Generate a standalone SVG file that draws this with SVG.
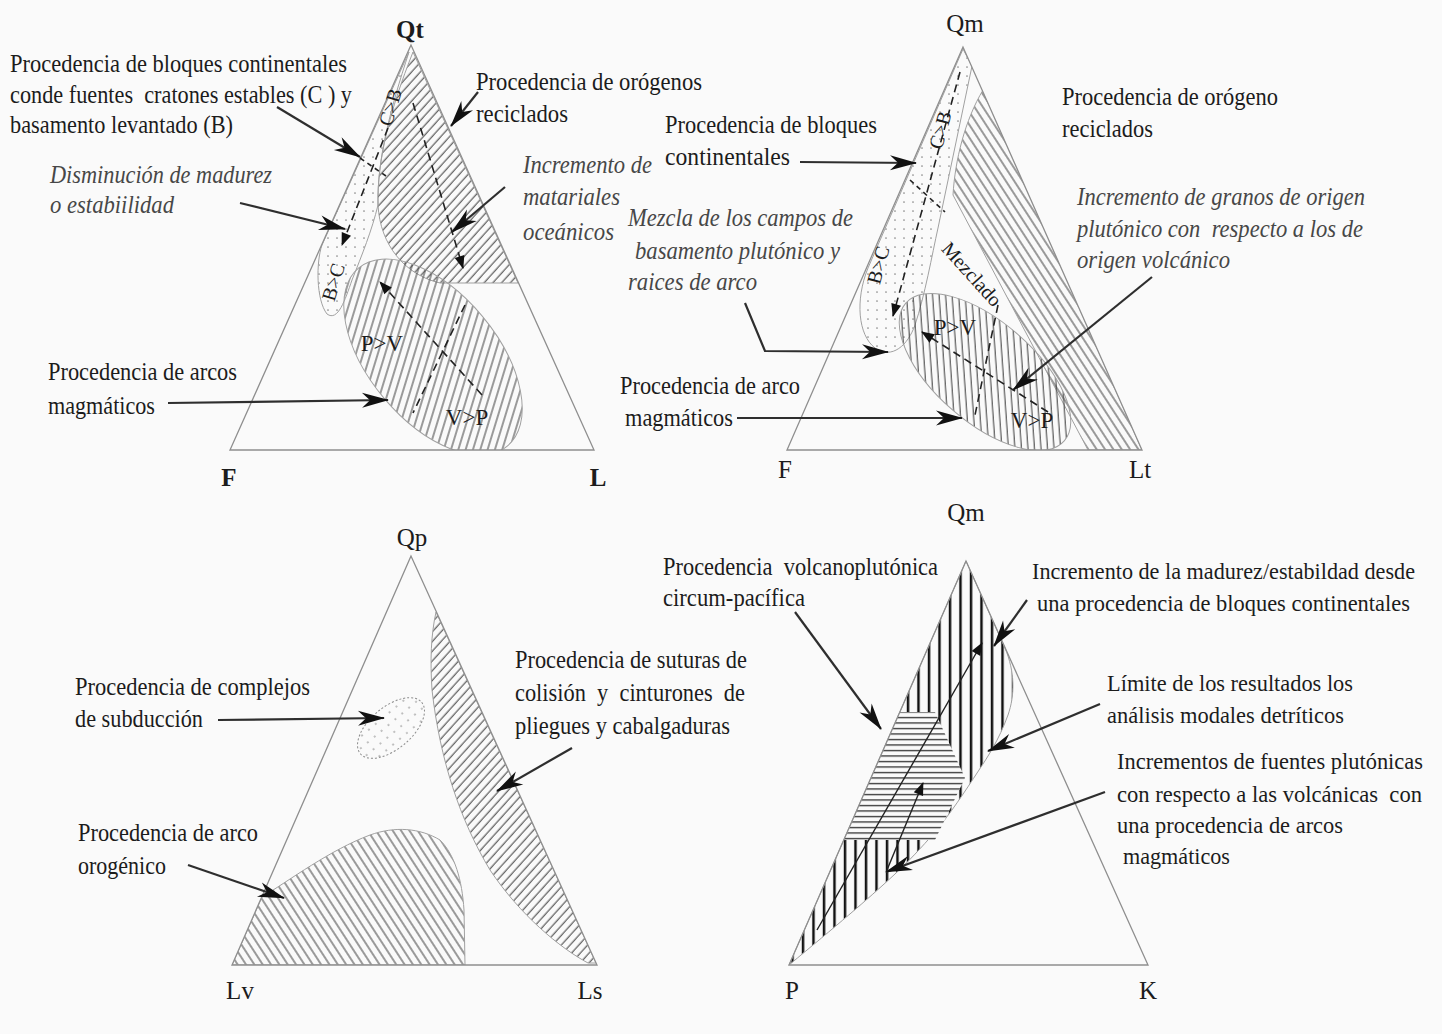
<svg xmlns="http://www.w3.org/2000/svg" width="1442" height="1034" viewBox="0 0 1442 1034">
<defs>
<style>
.t{font-family:"Liberation Serif","Times New Roman",serif;font-size:25px;fill:#1c1c1c}
.s{font-size:22.5px}
.i{font-style:italic;fill:#474747}
.c{text-anchor:middle}
.b{font-weight:bold}
.r{font-size:20px;text-anchor:middle;dominant-baseline:central}
.tri{fill:none;stroke:#8e8e8e;stroke-width:1.3}
.ol{stroke:#a0a0a0;stroke-width:1}
.ar{fill:none;stroke:#2e2e2e;stroke-width:2.2;marker-end:url(#ah)}
.da{fill:none;stroke:#222;stroke-width:1.6;stroke-dasharray:8 5}
.dh{marker-end:url(#sa)}
.sl{fill:none;stroke:#222;stroke-width:1.4;marker-end:url(#sa)}
</style>
<marker id="ah" viewBox="-28 -9 30 18" refX="0" refY="0" markerWidth="30" markerHeight="18" markerUnits="userSpaceOnUse" orient="auto"><path d="M1,0 L-26,-7.5 L-18,0 L-26,7.5 Z" fill="#111"/></marker>
<marker id="sa" viewBox="-13 -6 14 12" refX="0" refY="0" markerWidth="14" markerHeight="12" markerUnits="userSpaceOnUse" orient="auto"><path d="M1,0 L-12,-5 L-12,5 Z" fill="#111"/></marker>
<pattern id="pf" width="6.5" height="6.5" patternUnits="userSpaceOnUse" patternTransform="rotate(42)"><line x1="3" y1="-1" x2="3" y2="8" stroke="#4a4a4a" stroke-width="1.1"/></pattern>
<pattern id="pb" width="7" height="7" patternUnits="userSpaceOnUse" patternTransform="rotate(-33)"><line x1="3" y1="-1" x2="3" y2="8" stroke="#4a4a4a" stroke-width="1.1"/></pattern>
<pattern id="pb45" width="6.5" height="6.5" patternUnits="userSpaceOnUse" patternTransform="rotate(-45)"><line x1="3" y1="-1" x2="3" y2="8" stroke="#4a4a4a" stroke-width="1.1"/></pattern>
<pattern id="dots" width="9" height="9" patternUnits="userSpaceOnUse"><circle cx="4" cy="4" r="0.85" fill="#888"/></pattern>
<pattern id="vl" width="10.5" height="10" patternUnits="userSpaceOnUse"><line x1="5" y1="-1" x2="5" y2="11" stroke="#111" stroke-width="2.5"/></pattern>
<pattern id="hl" width="10" height="5.5" patternUnits="userSpaceOnUse"><line x1="-1" y1="2.5" x2="11" y2="2.5" stroke="#333" stroke-width="1.3"/></pattern>
<clipPath id="c1"><polygon points="411,45 230,450 594,450"/></clipPath>
<clipPath id="c2"><polygon points="963,47 787,450 1142,450"/></clipPath>
<clipPath id="c3"><polygon points="411,556 232,965 597,965"/></clipPath>
</defs>
<rect width="1442" height="1034" fill="#fafafa"/>

<g id="diagram-qt-f-l">
<g clip-path="url(#c1)">
<path d="M409,52 L322,245 C316,262 316,300 327,314 C338,322 345,300 352,280 C362,255 372,230 378,205 C377,160 390,110 409,52 Z" fill="url(#dots)" class="ol"/>
<path d="M413,52 L518,283 L440,283 C405,275 380,245 378,205 C377,160 390,110 413,52 Z" fill="url(#pf)" class="ol"/>
<ellipse cx="433" cy="357" rx="116" ry="64" transform="rotate(50 433 357)" fill="url(#pb)" class="ol"/>
</g>
<polygon class="tri" points="411,45 230,450 594,450"/>
<text class="t b c" x="410" y="38">Qt</text>
<text class="t b c" x="229" y="486">F</text>
<text class="t b c" x="598" y="486">L</text>
<text class="t r" transform="translate(390,107) rotate(-73)">C&gt;B</text>
<text class="t r" transform="translate(333,282) rotate(-73)">B&gt;C</text>
<text class="t c" x="382" y="351" style="font-size:23px">P&gt;V</text>
<text class="t c" x="467" y="425" style="font-size:23px">V&gt;P</text>
</g>

<g id="diagram-qm-f-lt">
<g clip-path="url(#c2)">
<path d="M963,49 L868,268 C855,300 858,335 875,348 C892,360 908,345 915,325 C925,295 932,255 938,228 L972,66 Z" fill="url(#dots)" class="ol"/>
<path d="M983,90 L1142,450 L1088,450 L953,195 C955,160 965,120 983,90 Z" fill="url(#pb)" class="ol"/>
<ellipse cx="985" cy="372" rx="105" ry="50" transform="rotate(41 985 372)" fill="url(#pb45)" class="ol"/>
</g>
<polygon class="tri" points="963,47 787,450 1142,450"/>
<text class="t c" x="965" y="32">Qm</text>
<text class="t c" x="785" y="478">F</text>
<text class="t c" x="1140" y="478">Lt</text>
<text class="t r" transform="translate(940,130) rotate(-75)">C&gt;B</text>
<text class="t r" transform="translate(878,265) rotate(-75)">B&gt;C</text>
<text class="t r" transform="translate(972,274) rotate(48)">Mezclado</text>
<text class="t c" x="955" y="335" style="font-size:23px">P&gt;V</text>
<text class="t c" x="1032" y="428" style="font-size:23px">V&gt;P</text>
</g>

<g id="diagram-qp-lv-ls">
<g clip-path="url(#c3)">
<path d="M436,612 L596,963 L588,963 C560,948 520,915 490,870 C460,820 440,760 432,690 C430,660 431,635 436,612 Z" fill="url(#pf)" class="ol"/>
<path d="M232,965 L262,897 C290,880 330,850 370,835 C395,826 420,828 440,840 C455,855 462,880 464,910 L465,965 Z" fill="url(#pb)" class="ol"/>
</g>
<ellipse cx="391" cy="728" rx="40" ry="21" transform="rotate(-40 391 728)" fill="url(#dots)" stroke="#8a8a8a" stroke-width="1" stroke-dasharray="2 2"/>
<polygon class="tri" points="411,556 232,965 597,965"/>
<text class="t c" x="412" y="546">Qp</text>
<text class="t c" x="240" y="999">Lv</text>
<text class="t c" x="590" y="999">Ls</text>
</g>

<g id="diagram-qm-p-k">
<path d="M966,561 L1005,648 C1015,672 1015,695 1008,715 C999,740 987,758 979,770 C964,793 950,814 935,832 C921,848 909,861 895,874 C866,901 836,926 789,965 Z" fill="url(#vl)" class="ol"/>
<path d="M900,712 L935,712 L965,778 L935,840 L844,840 Z" fill="#fafafa"/>
<path d="M900,712 L935,712 L965,778 L935,840 L844,840 Z" fill="url(#hl)"/>
<polygon class="tri" points="966,561 789,965 1148,965"/>
<text class="t c" x="966" y="521">Qm</text>
<text class="t c" x="792" y="999">P</text>
<text class="t c" x="1148" y="999">K</text>
</g>

<g id="labels">
<g id="lbl-bloques-1">
<text class="t" x="10" y="72" textLength="337" lengthAdjust="spacingAndGlyphs">Procedencia de bloques continentales</text>
<text class="t" x="10" y="103" textLength="342" lengthAdjust="spacingAndGlyphs" xml:space="preserve">conde fuentes  cratones estables (C ) y</text>
<text class="t" x="10" y="133" textLength="223" lengthAdjust="spacingAndGlyphs">basamento levantado (B)</text>
</g>
<g id="lbl-disminucion">
<text class="t i" x="50" y="183" textLength="222" lengthAdjust="spacingAndGlyphs">Disminución de madurez</text>
<text class="t i" x="50" y="213" textLength="124" lengthAdjust="spacingAndGlyphs">o estabiilidad</text>
</g>
<g id="lbl-orogenos-1">
<text class="t" x="476" y="90" textLength="226" lengthAdjust="spacingAndGlyphs">Procedencia de orógenos</text>
<text class="t" x="476" y="122" textLength="92" lengthAdjust="spacingAndGlyphs">reciclados</text>
</g>
<g id="lbl-oceanicos">
<text class="t i" x="523" y="173" textLength="129" lengthAdjust="spacingAndGlyphs">Incremento de</text>
<text class="t i" x="523" y="205" textLength="97" lengthAdjust="spacingAndGlyphs">matariales</text>
<text class="t i" x="523" y="240" textLength="91" lengthAdjust="spacingAndGlyphs">oceánicos</text>
</g>
<g id="lbl-arcos-1">
<text class="t" x="48" y="380" textLength="189" lengthAdjust="spacingAndGlyphs">Procedencia de arcos</text>
<text class="t" x="48" y="414" textLength="107" lengthAdjust="spacingAndGlyphs">magmáticos</text>
</g>
<g id="lbl-bloques-2">
<text class="t" x="665" y="133" textLength="212" lengthAdjust="spacingAndGlyphs">Procedencia de bloques</text>
<text class="t" x="665" y="165" textLength="125" lengthAdjust="spacingAndGlyphs">continentales</text>
</g>
<g id="lbl-orogeno-2">
<text class="t" x="1062" y="105" textLength="216" lengthAdjust="spacingAndGlyphs">Procedencia de orógeno</text>
<text class="t" x="1062" y="137" textLength="91" lengthAdjust="spacingAndGlyphs">reciclados</text>
</g>
<g id="lbl-granos">
<text class="t i" x="1077" y="205" textLength="288" lengthAdjust="spacingAndGlyphs">Incremento de granos de origen</text>
<text class="t i" x="1077" y="237" textLength="286" lengthAdjust="spacingAndGlyphs" xml:space="preserve">plutónico con  respecto a los de</text>
<text class="t i" x="1077" y="268" textLength="153" lengthAdjust="spacingAndGlyphs">origen volcánico</text>
</g>
<g id="lbl-mezcla">
<text class="t i" x="628" y="226" textLength="225" lengthAdjust="spacingAndGlyphs">Mezcla de los campos de</text>
<text class="t i" x="635" y="259" textLength="205" lengthAdjust="spacingAndGlyphs">basamento plutónico y</text>
<text class="t i" x="628" y="290" textLength="129" lengthAdjust="spacingAndGlyphs">raices de arco</text>
</g>
<g id="lbl-arco-2">
<text class="t" x="620" y="394" textLength="180" lengthAdjust="spacingAndGlyphs">Procedencia de arco</text>
<text class="t" x="625" y="426" textLength="108" lengthAdjust="spacingAndGlyphs">magmáticos</text>
</g>
<g id="lbl-subduccion">
<text class="t" x="75" y="695" textLength="235" lengthAdjust="spacingAndGlyphs">Procedencia de complejos</text>
<text class="t" x="75" y="727" textLength="128" lengthAdjust="spacingAndGlyphs">de subducción</text>
</g>
<g id="lbl-suturas">
<text class="t" x="515" y="668" textLength="232" lengthAdjust="spacingAndGlyphs">Procedencia de suturas de</text>
<text class="t" x="515" y="701" textLength="230" lengthAdjust="spacingAndGlyphs" xml:space="preserve">colisión  y  cinturones  de</text>
<text class="t" x="515" y="734" textLength="215" lengthAdjust="spacingAndGlyphs">pliegues y cabalgaduras</text>
</g>
<g id="lbl-orogenico">
<text class="t" x="78" y="841" textLength="180" lengthAdjust="spacingAndGlyphs">Procedencia de arco</text>
<text class="t" x="78" y="874" textLength="88" lengthAdjust="spacingAndGlyphs">orogénico</text>
</g>
<g id="lbl-volcanoplutonica">
<text class="t" x="663" y="575" textLength="275" lengthAdjust="spacingAndGlyphs" xml:space="preserve">Procedencia  volcanoplutónica</text>
<text class="t" x="663" y="606" textLength="142" lengthAdjust="spacingAndGlyphs">circum-pacífica</text>
</g>
<g id="lbl-madurez">
<text class="t s" x="1032" y="579" textLength="383" lengthAdjust="spacingAndGlyphs">Incremento de la madurez/estabildad desde</text>
<text class="t s" x="1037" y="611" textLength="373" lengthAdjust="spacingAndGlyphs">una procedencia de bloques continentales</text>
</g>
<g id="lbl-limite">
<text class="t s" x="1107" y="691" textLength="246" lengthAdjust="spacingAndGlyphs">Límite de los resultados los</text>
<text class="t s" x="1107" y="723" textLength="237" lengthAdjust="spacingAndGlyphs">análisis modales detríticos</text>
</g>
<g id="lbl-plutonicas">
<text class="t s" x="1117" y="769" textLength="306" lengthAdjust="spacingAndGlyphs">Incrementos de fuentes plutónicas</text>
<text class="t s" x="1117" y="802" textLength="305" lengthAdjust="spacingAndGlyphs" xml:space="preserve">con respecto a las volcánicas  con</text>
<text class="t s" x="1117" y="833" textLength="226" lengthAdjust="spacingAndGlyphs">una procedencia de arcos</text>
<text class="t s" x="1123" y="864" textLength="107" lengthAdjust="spacingAndGlyphs">magmáticos</text>
</g>
</g>

<g id="connectors">
<path class="ar" d="M277,107 L360,157"/>
<path class="ar" d="M240,203 L345,229"/>
<path class="ar" d="M478,92 L451,126"/>
<path class="ar" d="M505,187 L452,232"/>
<path class="ar" d="M168,403 L388,400"/>
<path class="da dh" d="M413,103 L463,268"/>
<path class="da dh" d="M482,395 L380,282"/>
<path class="da" d="M465,305 L413,413"/>
<path class="da dh" d="M388,128 L342,245"/>
<path class="da" d="M360,158 L386,176" style="stroke-dasharray:5 4"/>
<path class="ar" d="M800,162 L916,163"/>
<path class="ar" d="M1152,277 L1013,390"/>
<path class="ar" d="M745,303 L765,351 L888,352"/>
<path class="ar" d="M737,418 L962,418"/>
<path class="da dh" d="M960,72 L893,316"/>
<path class="da dh" d="M1048,412 L922,332"/>
<path class="da" d="M998,305 L975,415"/>
<path class="da" d="M910,180 L945,212" style="stroke-dasharray:5 4"/>
<path class="ar" d="M218,720 L384,718"/>
<path class="ar" d="M572,748 L497,791"/>
<path class="ar" d="M188,865 L284,898"/>
<path class="ar" d="M795,612 L881,729"/>
<path class="ar" d="M1027,600 L994,646"/>
<path class="ar" d="M1100,704 L988,751"/>
<path class="ar" d="M1105,792 L886,872"/>
<path class="sl" d="M817,930 L982,643"/>
<path class="sl" d="M887,870 L923,783"/>
</g>
</svg>
